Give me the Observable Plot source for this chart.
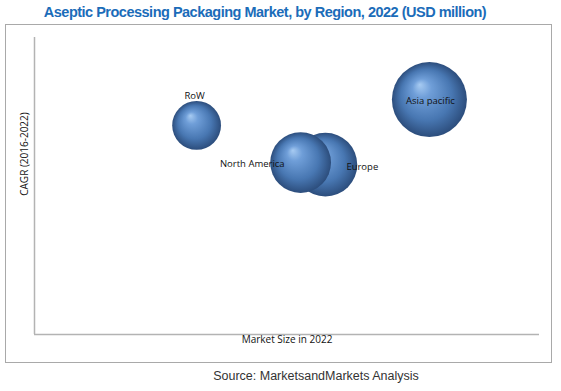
<!DOCTYPE html>
<html>
<head>
<meta charset="utf-8">
<script src="https://cdn.jsdelivr.net/npm/d3@7"></script>
<script src="https://cdn.jsdelivr.net/npm/@observablehq/plot@0.6"></script>
<style>
  html, body { margin: 0; padding: 0; background: #fff; }
  #wrap { position: relative; width: 561px; height: 391px; overflow: hidden; }
  #title { position: absolute; left: 0; top: 4px; width: 530px; text-align: center;
    font-family: "Liberation Sans Narrow", "Liberation Sans", Arial, sans-serif; font-weight: bold;
    font-size: 14.5px; letter-spacing: -0.5px; color: #1b6cb9; white-space: nowrap; }
  #box { position: absolute; left: 5px; top: 24px; width: 547px; height: 339px;
    box-sizing: border-box; border: 1px solid #a9a9a9; }
  #chart { position: absolute; left: 0; top: 0; }
  #source { position: absolute; left: 0; top: 369px; width: 632px; text-align: center;
    font-family: "Liberation Sans", Arial, sans-serif; font-size: 12.5px; color: #333; white-space: nowrap; }
</style>
</head>
<body>
<div id="wrap">
  <div id="title">Aseptic Processing Packaging Market, by Region, 2022 (USD million)</div>
  <div id="box"></div>
  <div id="chart"></div>
  <div id="source">Source: MarketsandMarkets Analysis</div>
</div>
<script>
// Data (arbitrary units)
const regions = ["Asia pacific", "Europe", "North America", "RoW"];
const marketSize = [78.2, 57.6, 52.7, 32.1];   // x position (Market Size in 2022)
const cagr = [79.1, 57.2, 57.9, 70.4];         // y position (CAGR 2016-2022)
const bubbleSize = [13.7, 9.9, 9.0, 5.8];      // bubble area

const data = regions.map((r, i) => ({region: r, x: marketSize[i], y: cagr[i], s: bubbleSize[i]}));

const defs = () => {
  const svg = d3.create("svg:defs");
  const g = svg.append("radialGradient").attr("id", "sphere")
    .attr("cx", "0.5").attr("cy", "0.5").attr("r", "0.5")
    .attr("fx", "0.37").attr("fy", "0.3");
  g.append("stop").attr("offset", "0%").attr("stop-color", "#a7cbf2");
  g.append("stop").attr("offset", "25%").attr("stop-color", "#6f9ed8");
  g.append("stop").attr("offset", "68%").attr("stop-color", "#4877b2");
  g.append("stop").attr("offset", "100%").attr("stop-color", "#2c4d7c");
  return svg.node();
};

const font = "'Open Sans', 'Liberation Sans', sans-serif";

const chart = Plot.plot({
  width: 561,
  height: 362,
  marginLeft: 34,
  marginRight: 22,
  marginTop: 37,
  marginBottom: 28,
  x: {domain: [0, 100], axis: null},
  y: {domain: [0, 100], axis: null},
  r: {type: "sqrt", domain: [0, 13.7], range: [0, 37.5]},
  style: {fontFamily: font, background: "transparent", overflow: "visible"},
  marks: [
    defs,
    Plot.ruleX([0], {stroke: "#b3b3b3", strokeWidth: 1.5}),
    Plot.ruleY([0], {stroke: "#b3b3b3", strokeWidth: 1.5}),
    Plot.dot(data, {x: "x", y: "y", r: "s", fill: "url(#sphere)", stroke: "none"}),
    Plot.text(data.filter(d => d.region === "RoW"), {x: "x", y: "y", text: "region", dx: -2, dy: -29, fontSize: 9.5, fill: "#111"}),
    Plot.text(data.filter(d => d.region === "North America"), {x: "x", y: "y", text: "region", textAnchor: "end", dx: -16, dy: 1, fontSize: 9.5, fill: "#111"}),
    Plot.text(data.filter(d => d.region === "Europe"), {x: "x", y: "y", text: "region", textAnchor: "start", dx: 21, dy: 2, fontSize: 9.5, fill: "#111"}),
    Plot.text(data.filter(d => d.region === "Asia pacific"), {x: "x", y: "y", text: "region", dx: 1, dy: 1, fontSize: 9.5, fill: "#111"}),
    Plot.text(["Market Size in 2022"], {frameAnchor: "bottom", dy: 8, fontSize: 10, fill: "#111"}),
    Plot.text(["CAGR (2016-2022)"], {frameAnchor: "left", textAnchor: "middle", rotate: -90, dx: -10, dy: -32, fontSize: 10, fill: "#111"})
  ]
});
document.getElementById("chart").appendChild(chart);
</script>
</body>
</html>
